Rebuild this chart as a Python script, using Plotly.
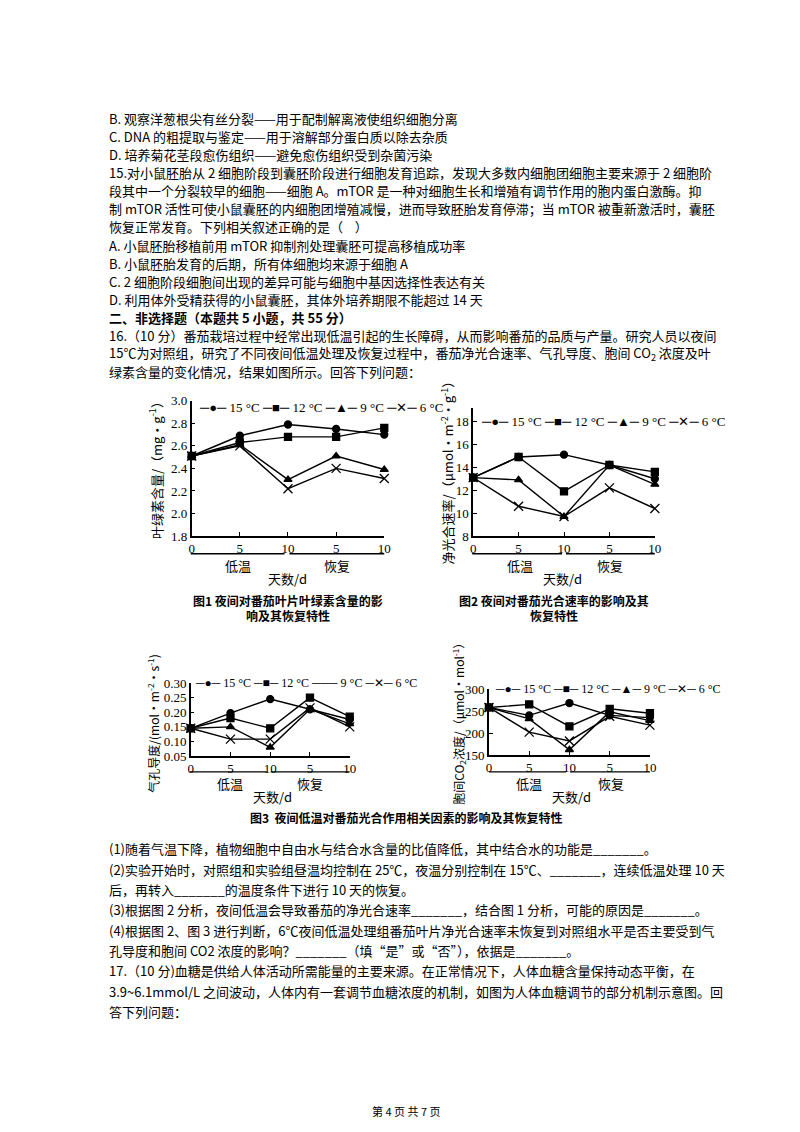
import plotly.graph_objects as go

W, H = 800, 1132
xcats = [0, 1, 2, 3, 4]
xticktext = ["0", "5", "10", "5", "10"]
series_names = ["15 °C", "12 °C", "9 °C", "6 °C"]
symbols = ["circle", "square", "triangle-up", "x-thin-open"]

chl = [[2.51, 2.69, 2.79, 2.75, 2.70],
       [2.51, 2.63, 2.68, 2.68, 2.76],
       [2.51, 2.61, 2.30, 2.51, 2.39],
       [2.51, 2.60, 2.22, 2.40, 2.31]]
pn = [[13.1, 14.9, 15.1, 14.2, 13.0],
      [13.1, 14.9, 11.9, 14.2, 13.6],
      [13.1, 12.9, 9.7, 14.2, 12.5],
      [13.1, 10.6, 9.7, 12.2, 10.4]]
gs = [[0.145, 0.197, 0.245, 0.21, 0.175],
      [0.145, 0.18, 0.145, 0.25, 0.185],
      [0.145, 0.15, 0.08, 0.21, 0.16],
      [0.145, 0.108, 0.108, 0.215, 0.15]]
ci = [[258, 240, 268, 240, 235],
      [258, 265, 215, 255, 245],
      [258, 232, 162, 248, 228],
      [258, 202, 182, 238, 218]]

CJK = "Noto Sans CJK SC"
SER = "Liberation Serif, Noto Sans CJK SC"

fig = go.Figure()
charts = [
    (chl, 183, 378, 391, 528, [1.8, 3.0], 0.2, ".1f"),
    (pn, 468, 652, 398, 528, [8, 19.2], 2, "d"),
    (gs, 182, 343, 677, 751, [0.05, 0.30], 0.05, ".2f"),
    (ci, 484, 647, 683, 750, [150, 300], 50, "d"),
]
for i, (data, x0, x1, yt, yb, yr, dt, tf) in enumerate(charts):
    k = "" if i == 0 else str(i + 1)
    for j in range(4):
        fig.add_trace(go.Scatter(
            x=xcats, y=data[j], name=series_names[j], mode="lines+markers",
            line=dict(color="black", width=1.4),
            marker=dict(symbol=symbols[j], size=7 if j != 3 else 9, color="black",
                        line=dict(color="black", width=1.3)),
            xaxis="x" + k, yaxis="y" + k, cliponaxis=False, showlegend=False))
    fig.layout["xaxis" + k] = dict(
        domain=[x0 / W, x1 / W], range=[0, 4], tickvals=xcats, ticktext=xticktext,
        showline=True, linecolor="black", linewidth=1.5, ticks="inside", ticklen=4,
        tickcolor="black", showgrid=False, zeroline=False, anchor="y" + k,
        tickfont=dict(family=SER, size=13, color="black"))
    fig.layout["yaxis" + k] = dict(
        domain=[1 - yb / H, 1 - yt / H], range=yr, dtick=dt, tickformat=tf,
        showline=True, linecolor="black", linewidth=1.5, ticks="inside", ticklen=4,
        tickcolor="black", showgrid=False, zeroline=False, anchor="x" + k,
        tickfont=dict(family=SER, size=13, color="black"))

anns = []
def T(text, x, y, size=13, anchor="left", family=CJK, angle=0, bold=False):
    if bold:
        text = "<b>" + text + "</b>"
    anns.append(dict(text=text, x=x / W, y=1 - y / H, xref="paper", yref="paper",
                     xanchor=anchor, yanchor="middle", showarrow=False, textangle=angle,
                     font=dict(family=family, size=size, color="black")))

L = 97
top_lines = [
    "B. 观察洋葱根尖有丝分裂——用于配制解离液使组织细胞分离",
    "C. DNA 的粗提取与鉴定——用于溶解部分蛋白质以除去杂质",
    "D. 培养菊花茎段愈伤组织——避免愈伤组织受到杂菌污染",
    "15.对小鼠胚胎从 2 细胞阶段到囊胚阶段进行细胞发育追踪，发现大多数内细胞团细胞主要来源于 2 细胞阶",
    "段其中一个分裂较早的细胞——细胞 A。mTOR 是一种对细胞生长和增殖有调节作用的胞内蛋白激酶。抑",
    "制 mTOR 活性可使小鼠囊胚的内细胞团增殖减慢，进而导致胚胎发育停滞；当 mTOR 被重新激活时，囊胚",
    "恢复正常发育。下列相关叙述正确的是（    ）",
    "A. 小鼠胚胎移植前用 mTOR 抑制剂处理囊胚可提高移植成功率",
    "B. 小鼠胚胎发育的后期，所有体细胞均来源于细胞 A",
    "C. 2 细胞阶段细胞间出现的差异可能与细胞中基因选择性表达有关",
    "D. 利用体外受精获得的小鼠囊胚，其体外培养期限不能超过 14 天",
    "<b>二、非选择题（本题共 5 小题，共 55 分）</b>",
    "16.（10 分）番茄栽培过程中经常出现低温引起的生长障碍，从而影响番茄的品质与产量。研究人员以夜间",
    "15℃为对照组，研究了不同夜间低温处理及恢复过程中，番茄净光合速率、气孔导度、胞间 CO<sub>2</sub> 浓度及叶",
    "绿素含量的变化情况，结果如图所示。回答下列问题：",
]
for n, t in enumerate(top_lines):
    T(t, L, 105 + n * 18.3, 13)
bot_lines = [
    "(1)随着气温下降，植物细胞中自由水与结合水含量的比值降低，其中结合水的功能是_______。",
    "(2)实验开始时，对照组和实验组昼温均控制在 25℃，夜温分别控制在 15℃、_______，连续低温处理 10 天",
    "后，再转入_______的温度条件下进行 10 天的恢复。",
    "(3)根据图 2 分析，夜间低温会导致番茄的净光合速率_______，结合图 1 分析，可能的原因是_______。",
    "(4)根据图 2、图 3 进行判断，6℃夜间低温处理组番茄叶片净光合速率未恢复到对照组水平是否主要受到气",
    "孔导度和胞间 CO2 浓度的影响？_______（填“是”或“否”），依据是_______。",
    "17.（10 分)血糖是供给人体活动所需能量的主要来源。在正常情况下，人体血糖含量保持动态平衡，在",
    "3.9~6.1mmol/L 之间波动，人体内有一套调节血糖浓度的机制，如图为人体血糖调节的部分机制示意图。回",
    "答下列问题：",
]
for n, t in enumerate(bot_lines):
    T(t, L, 845 + n * 20.6, 13)
T("第 4 页 共 7 页", 400, 1111, 11, anchor="center")

# manual legends
leg = "─●─ 15 °C ─■─ 12 °C ─▲─ 9 °C ─✕─ 6 °C"
leg3 = "─●─ 15 °C ─■─ 12 °C ─── 9 °C ─✕─ 6 °C"
T(leg, 188, 398, 13, family=SER)
T(leg, 474, 412, 13, family=SER)
T(leg3, 184, 677, 12, family=SER)
T(leg, 488, 683, 12, family=SER)

T("低温", 230, 558, 13, "center"); T("恢复", 330, 558, 13, "center")
T("天数/d", 280, 571, 13, "center")
T("图1 夜间对番茄叶片叶绿素含量的影", 280, 593, 12, "center", bold=True)
T("响及其恢复特性", 280, 609, 12, "center", bold=True)
T("叶绿素含量/（mg·g<sup>-1</sup>）", 146, 458, 13, "center", angle=-90)

T("低温", 515, 558, 13, "center"); T("恢复", 607, 558, 13, "center")
T("天数/d", 558, 571, 13, "center")
T("图2 夜间对番茄光合速率的影响及其", 550, 593, 12, "center", bold=True)
T("恢复特性", 550, 609, 12, "center", bold=True)
T("净光合速率/（μmol·m<sup>-2</sup>·g<sup>-1</sup>）", 441, 460, 13, "center", angle=-90)

T("低温", 222, 779, 13, "center"); T("恢复", 303, 779, 13, "center")
T("天数/d", 265, 792, 13, "center")
T("气孔导度/(mol·m<sup>-2</sup>·s<sup>-1</sup>)", 144, 718, 12, "center", angle=-90)

T("低温", 525, 779, 13, "center"); T("恢复", 608, 779, 13, "center")
T("天数/d", 568, 792, 13, "center")
T("胞间CO<sub>2</sub>浓度/（μmol·mol<sup>-1</sup>）", 453, 715, 12, "center", angle=-90)

T("图3  夜间低温对番茄光合作用相关因素的影响及其恢复特性", 400, 813, 12, "center", bold=True)

shapes = []
def HL(x0, x1, y):
    shapes.append(dict(type="line", xref="paper", yref="paper", x0=x0 / W, x1=x1 / W,
                       y0=1 - y / H, y1=1 - y / H, line=dict(color="black", width=1.3)))
HL(182, 277, 546); HL(282, 378, 546)
HL(467, 558, 546); HL(562, 652, 546)
HL(181, 259, 767); HL(263, 343, 767)
HL(484, 562, 767); HL(566, 647, 767)

fig.update_layout(width=W, height=H, margin=dict(l=0, r=0, t=0, b=0),
                  paper_bgcolor="white", plot_bgcolor="white",
                  annotations=anns, shapes=shapes, showlegend=False)
fig.write_html("out.html")
